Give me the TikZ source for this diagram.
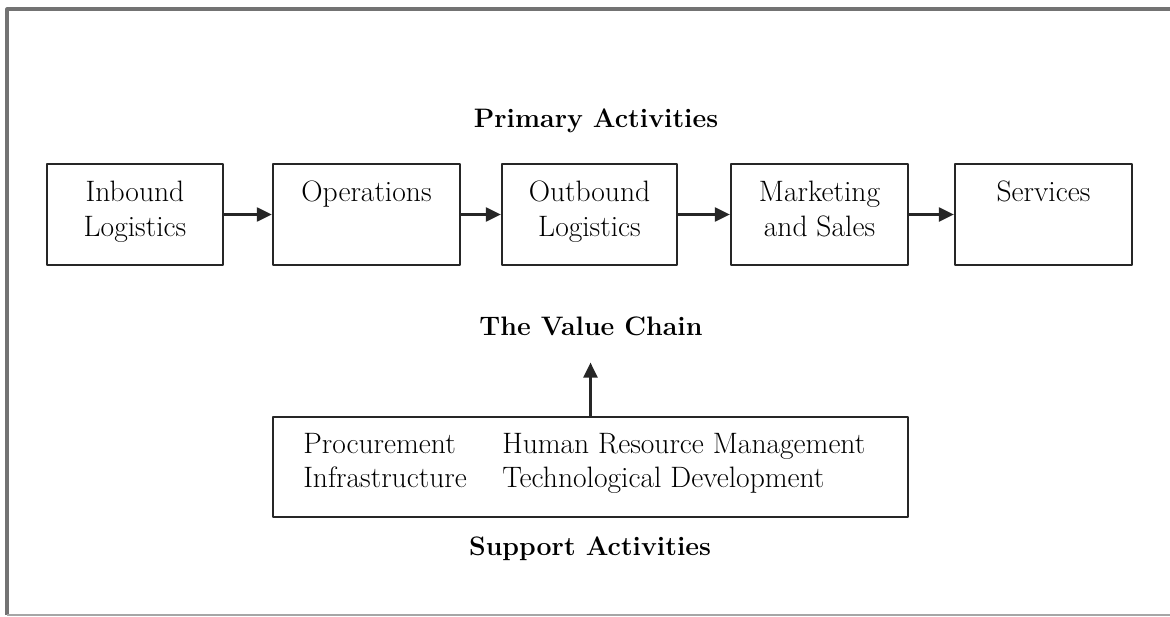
\documentclass[tikz,border=0pt]{standalone}
\usetikzlibrary{positioning,arrows.meta}
\tikzset{
  blk/.style={draw=black!85, line width=1.6pt, minimum height=2.525cm, inner sep=0pt},
  lbl/.style={align=center, inner sep=0pt},
  ttl/.style={inner sep=0pt, anchor=base, font=\fontsize{19}{23}\selectfont\bfseries},
  item/.style={inner sep=0pt, anchor=base west},
  link/.style={-{Triangle[length=0.375cm,width=0.35cm]}, line width=1.6pt, draw=black!85},
}
\begin{document}
\begin{tikzpicture}[x=0.025cm, y=-0.025cm, font=\fontsize{21}{24.5}\selectfont, line join=round]
  \useasboundingbox (0,0) rectangle (1170,617);
  % frame, open on the right
  \draw[line width=2.2pt, draw=black!55] (7,615) -- (7,9) -- (1175,9);
  \draw[line width=1pt, draw=black!35] (7,615) -- (1175,615);

  % primary activities
  \node[ttl] (pa) at (596,128) {Primary Activities};
  \node[blk, minimum width=4.4cm]   (ib) at (135,214.5) {};
  \node[blk, minimum width=4.675cm] (op) at (366.5,214.5) {};
  \node[blk, minimum width=4.375cm] (ob) at (589.5,214.5) {};
  \node[blk, minimum width=4.425cm] (ms) at (819.5,214.5) {};
  \node[blk, minimum width=4.425cm] (sv) at (1043.5,214.5) {};
  \node[lbl, below=0.45cm of ib.north] (ibt) {Inbound\\Logistics};
  \node[lbl, below=0.45cm of op.north] (opt) {Operations};
  \node[lbl, below=0.45cm of ob.north] (obt) {Outbound\\Logistics};
  \node[lbl, below=0.45cm of ms.north] (mst) {Marketing\\and Sales};
  \node[lbl, below=0.45cm of sv.north] (svt) {Services};
  \draw[link] (ib) -- (op);
  \draw[link] (op) -- (ob);
  \draw[link] (ob) -- (ms);
  \draw[link] (ms) -- (sv);

  % support activities
  \node[ttl] (vc) at (591,335) {The Value Chain};
  \node[blk, minimum width=15.875cm, minimum height=2.5cm] (sup) at (590.5,467) {};
  \node[item] (pr)  at (303,453) {Procurement};
  \node[item] (inf) at (303,487) {Infrastructure};
  \node[item] (hr)  at (502,453) {Human Resource Management};
  \node[item] (td)  at (502,487) {Technological Development};
  \node[ttl] (sa) at (590,555) {Support Activities};
  \draw[link, shorten >=0.675cm] (sup.north) -- (sup.north |- vc.south);
\end{tikzpicture}
\end{document}
